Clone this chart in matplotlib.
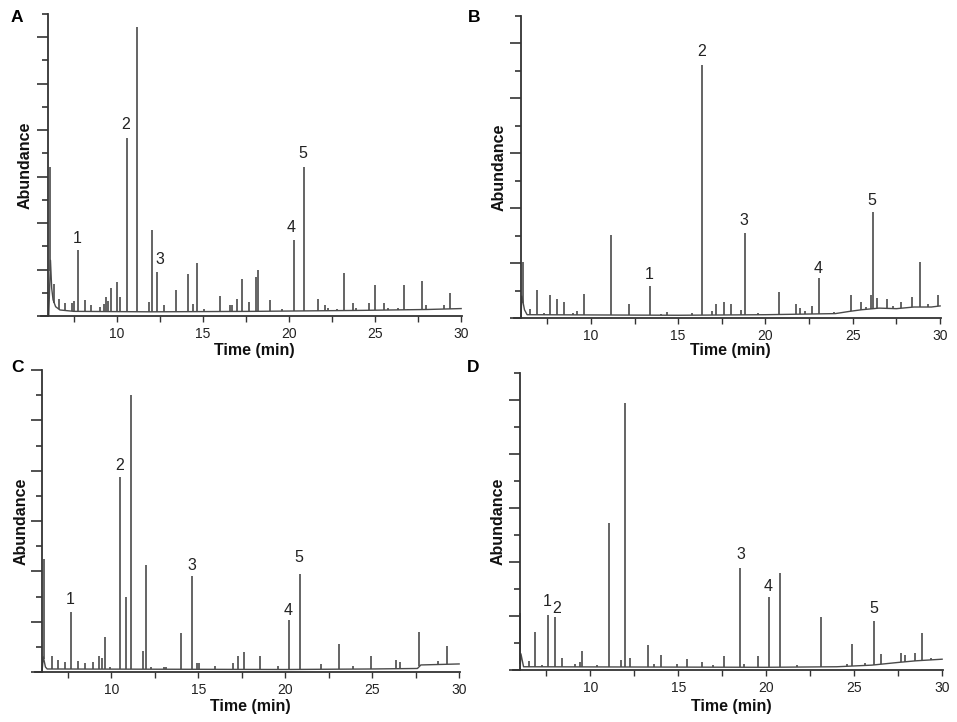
import numpy as np
import matplotlib
matplotlib.use("Agg")
import matplotlib.pyplot as plt
from matplotlib.ticker import MultipleLocator, NullFormatter

plt.rcParams['font.family'] = ['Liberation Sans', 'DejaVu Sans']

W, H = 957, 722

# ---- panel A ----
a_t = [6.13, 6.37, 6.62, 6.97, 7.39, 7.49, 7.74, 8.13, 8.51, 9.03, 9.23, 9.38, 9.52, 9.67,
       10.0, 10.19, 10.58, 11.2, 11.87, 12.07, 12.36, 12.74, 13.42, 14.12, 14.44, 14.66,
       15.06, 15.99, 16.57, 16.7, 16.96, 17.29, 17.69, 18.08, 18.19, 18.89, 19.62, 20.28,
       20.86, 21.69, 22.08, 22.27, 22.79, 23.18, 23.72, 23.91, 24.63, 24.98, 25.5, 25.75,
       26.33, 26.66, 26.9, 27.73, 27.97, 29.03, 29.36]
a_h = [3.21, 0.68, 0.37, 0.29, 0.29, 0.32, 1.43, 0.34, 0.23, 0.2, 0.25, 0.41, 0.32, 0.61,
       0.74, 0.41, 3.84, 6.23, 0.3, 1.86, 0.94, 0.23, 0.55, 0.91, 0.25, 1.14,
       0.14, 0.43, 0.23, 0.23, 0.37, 0.8, 0.3, 0.84, 1.0, 0.34, 0.16, 1.63,
       3.21, 0.36, 0.23, 0.18, 0.14, 0.93, 0.27, 0.17, 0.29, 0.66, 0.29, 0.18,
       0.18, 0.66, 0.16, 0.75, 0.23, 0.23, 0.5]
a_base_t = [6.05, 6.15, 6.22, 6.3, 6.45, 6.7, 7.5, 12, 18, 24, 28, 30]
a_base_y = [0.0, 1.2, 0.6, 0.35, 0.2, 0.13, 0.1, 0.09, 0.1, 0.12, 0.14, 0.16]
a_lab_t = [7.68, 10.54, 12.5, 20.1, 20.78]
a_lab_y = [1.66, 4.12, 1.21, 1.91, 3.49]

# ---- panel B ----
b_t = [6.13, 6.53, 6.91, 7.33, 7.68, 8.06, 8.44, 8.95, 9.2, 9.62, 10.44, 11.14, 12.19,
       13.37, 14.04, 14.38, 15.81, 16.36, 16.95, 17.18, 17.62, 18.0, 18.57, 18.8, 19.56,
       20.78, 21.77, 21.96, 22.29, 22.67, 23.09, 23.9, 24.9, 25.49, 25.77, 26.05, 26.15,
       26.38, 26.95, 27.3, 27.75, 28.38, 28.86, 29.33, 29.9]
b_h = [1.02, 0.16, 0.51, 0.1, 0.42, 0.35, 0.29, 0.1, 0.12, 0.43, 0.06, 1.52, 0.26,
       0.58, 0.07, 0.11, 0.09, 4.61, 0.13, 0.26, 0.3, 0.26, 0.15, 1.55, 0.09,
       0.47, 0.25, 0.18, 0.12, 0.22, 0.72, 0.11, 0.41, 0.29, 0.2, 0.42, 1.93,
       0.37, 0.35, 0.21, 0.3, 0.39, 1.02, 0.26, 0.41]
b_base_t = [6.0, 6.05, 6.2, 6.35, 15, 20, 24, 24.8, 25.5, 26.5, 27.5, 28.5, 29.5, 30]
b_base_y = [0.0, 0.4, 0.15, 0.06, 0.05, 0.06, 0.08, 0.12, 0.15, 0.18, 0.17, 0.2, 0.2, 0.22]
b_lab_t = [13.33, 16.34, 18.76, 22.99, 26.1]
b_lab_y = [0.8, 4.85, 1.77, 0.9, 2.14]

# ---- panel C ----
c_t = [6.1, 6.56, 6.9, 7.32, 7.65, 8.05, 8.47, 8.95, 9.29, 9.43, 9.62, 9.9, 10.5, 10.82,
       11.13, 11.82, 11.99, 12.3, 13.0, 13.15, 14.02, 14.63, 14.92, 15.04, 15.93, 16.99,
       17.29, 17.6, 18.55, 19.57, 20.22, 20.83, 22.06, 23.11, 23.88, 24.93, 26.36, 26.59,
       27.72, 28.76, 29.31]
c_h = [2.25, 0.31, 0.23, 0.2, 1.2, 0.21, 0.18, 0.2, 0.32, 0.28, 0.69, 0.1, 3.88, 1.49,
       5.5, 0.41, 2.13, 0.1, 0.1, 0.1, 0.77, 1.9, 0.18, 0.18, 0.11, 0.17,
       0.31, 0.4, 0.32, 0.11, 1.03, 1.95, 0.15, 0.55, 0.11, 0.31, 0.23, 0.2,
       0.79, 0.21, 0.51]
c_base_t = [6.0, 6.08, 6.2, 6.3, 20, 25, 27.6, 27.8, 30]
c_base_y = [0.0, 0.3, 0.1, 0.06, 0.05, 0.06, 0.07, 0.14, 0.16]
c_lab_t = [7.65, 10.48, 14.63, 20.16, 20.79]
c_lab_y = [1.45, 4.11, 2.12, 1.22, 2.27]

# ---- panel D ----
d_t = [6.02, 6.49, 6.83, 7.25, 7.59, 7.97, 8.37, 9.15, 9.43, 9.55, 10.38, 11.08, 11.74,
       11.97, 12.24, 13.3, 13.6, 14.02, 14.93, 15.5, 16.35, 17.0, 17.58, 18.53, 18.72,
       19.54, 20.18, 20.77, 21.75, 23.1, 24.6, 24.88, 25.64, 26.11, 26.55, 27.67, 27.91,
       28.48, 28.86, 29.34]
d_h = [1.05, 0.17, 0.7, 0.1, 1.02, 0.98, 0.23, 0.12, 0.15, 0.35, 0.09, 2.72, 0.19,
       4.94, 0.22, 0.46, 0.11, 0.27, 0.11, 0.2, 0.14, 0.1, 0.26, 1.88, 0.11,
       0.26, 1.35, 1.79, 0.09, 0.99, 0.12, 0.48, 0.13, 0.91, 0.29, 0.31, 0.28,
       0.31, 0.68, 0.22]
d_base_t = [6.0, 6.05, 6.2, 20, 24, 26, 27.5, 28.5, 30]
d_base_y = [0.0, 0.3, 0.06, 0.05, 0.06, 0.09, 0.14, 0.17, 0.2]
d_lab_t = [7.54, 8.1, 18.53, 20.09, 26.11]
d_lab_y = [1.27, 1.14, 2.13, 1.54, 1.14]

peak_labels = ['1', '2', '3', '4', '5']

# pixel boxes: left, right, top, bottom ; letter pos ; ylabel x ; xlabel y
panels = [
    dict(letter='A', box=(41, 462, 14, 316), ytop=6.5, t=a_t, h=a_h, bt=a_base_t, by=a_base_y,
         lt=a_lab_t, ly=a_lab_y, lpos=(17, 18), ylx=25, xly=351),
    dict(letter='B', box=(514, 941, 16, 318), ytop=5.5, t=b_t, h=b_h, bt=b_base_t, by=b_base_y,
         lt=b_lab_t, ly=b_lab_y, lpos=(474, 18), ylx=499, xly=351),
    dict(letter='C', box=(35, 460, 370, 672), ytop=6.0, t=c_t, h=c_h, bt=c_base_t, by=c_base_y,
         lt=c_lab_t, ly=c_lab_y, lpos=(18, 368), ylx=21, xly=707),
    dict(letter='D', box=(513, 943, 373, 670), ytop=5.5, t=d_t, h=d_h, bt=d_base_t, by=d_base_y,
         lt=d_lab_t, ly=d_lab_y, lpos=(473, 368), ylx=498, xly=707),
]

fig = plt.figure(figsize=(W / 100, H / 100), dpi=100)
trace = '#4a4a4a'
axcol = '#333333'

for p in panels:
    l, r, top, bot = p['box']
    ax = fig.add_axes([l / W, (H - bot) / H, (r - l) / W, (bot - top) / H])
    base_at_peak = np.interp(p['t'], p['bt'], p['by'])
    ax.plot(p['bt'], p['by'], color=trace, lw=1.0)
    ax.vlines(p['t'], base_at_peak, p['h'], color=trace, lw=1.2)
    for s, x, y in zip(peak_labels, p['lt'], p['ly']):
        ax.text(x, y, s, ha='center', va='center', fontsize=11.5, color='#222222')

    ax.set_xlim(5.6, 30.05)
    ax.set_ylim(0, p['ytop'])
    for s in ['top', 'right']:
        ax.spines[s].set_visible(False)
    ax.spines['left'].set_position(('data', 6.0))
    for s in ['left', 'bottom']:
        ax.spines[s].set_color(axcol)
        ax.spines[s].set_linewidth(1.3)
    ax.xaxis.set_minor_locator(MultipleLocator(2.5))
    ax.set_xticks([10, 15, 20, 25, 30])
    ax.yaxis.set_major_locator(MultipleLocator(1))
    ax.yaxis.set_minor_locator(MultipleLocator(0.5))
    ax.yaxis.set_major_formatter(NullFormatter())
    ax.tick_params(axis='x', which='both', direction='out', length=4, width=1.0,
                   color=axcol, labelsize=10, pad=4, labelcolor='#222222')
    ax.tick_params(axis='y', which='major', direction='out', length=8, width=1.2, color=axcol)
    ax.tick_params(axis='y', which='minor', direction='out', length=4, width=1.2, color=axcol)
    ax.patch.set_alpha(0)

    fig.text(p['lpos'][0] / W, 1 - p['lpos'][1] / H, p['letter'], fontsize=12.5,
             fontweight='bold', ha='center', va='center')
    fig.text(p['ylx'] / W, 1 - ((top + bot) / 2) / H, 'Abundance', rotation=90,
             fontsize=11.5, fontweight='bold', ha='center', va='center', color='#111111')
    xc = l + (r - l) * (18.0 - 5.6) / (30.05 - 5.6)
    fig.text(xc / W, 1 - p['xly'] / H, 'Time (min)', fontsize=11.5, fontweight='bold',
             ha='center', va='center', color='#111111')

fig.savefig('out.png', dpi=100)
